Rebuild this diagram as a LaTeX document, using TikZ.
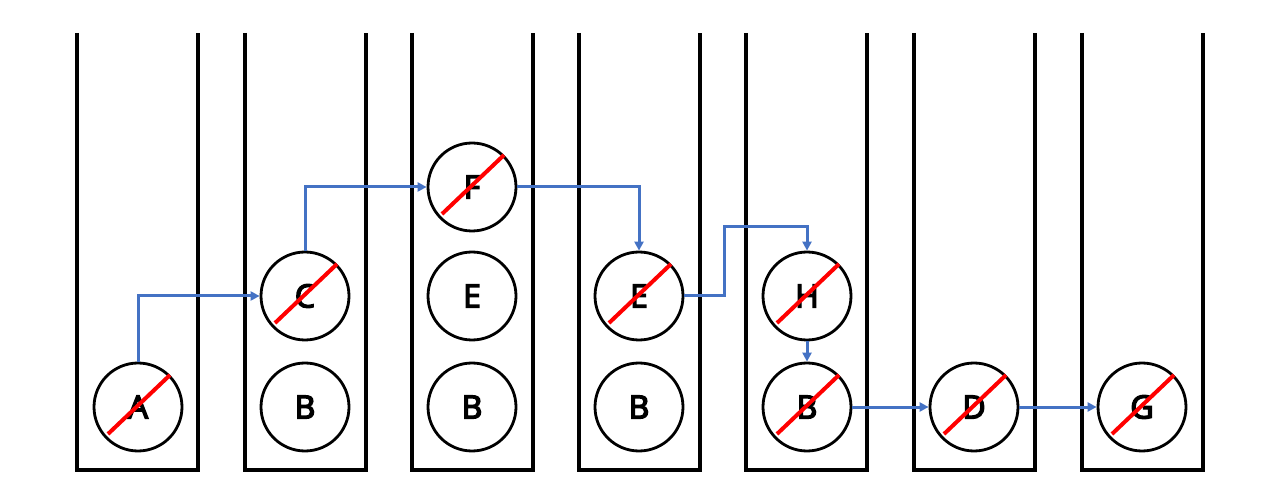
\documentclass[tikz,border=0pt]{standalone}
\usepackage{fontspec}
\setmainfont{Open Sans}
\newfontfamily\ballfont{Open Sans}[FakeBold=4.5]
\usetikzlibrary{arrows.meta}
\definecolor{arrowblue}{HTML}{4472C4}
\tikzset{
  box/.style={line width=4pt, line join=miter},
  ball/.style={circle, draw=black, line width=2.8pt, minimum size=88pt, inner sep=0pt, font=\ballfont\fontsize{32}{35}\selectfont},
  slash/.style={draw=red, line width=4pt},
  link/.style={draw=arrowblue, line width=3pt, -{Triangle[length=9pt,width=9pt]}},
}
\begin{document}
\begin{tikzpicture}[x=1pt,y=-1pt]
\useasboundingbox (0,0) rectangle (1275,486);
\foreach \xa/\xb in {77/198,245/366,412/533,579/700,746/867,914/1035,1082/1203}{
  \draw[box] (\xa,33) -- (\xa,470) -- (\xb,470) -- (\xb,33);
}
\node[ball] (A)  at (138,407) {A};
\node[ball] (C)  at (305,296) {C};
\node[ball] (B1) at (305,407) {B};
\node[ball] (F)  at (472,187) {F};
\node[ball] (E1) at (472,296) {E};
\node[ball] (B2) at (472,407) {B};
\node[ball] (E2) at (639,296) {E};
\node[ball] (B3) at (639,407) {B};
\node[ball] (H)  at (807,296) {H};
\node[ball] (B4) at (807,407) {B};
\node[ball] (D)  at (974,407) {D};
\node[ball] (G)  at (1142,407) {G};
\foreach \n in {A,C,F,E2,H,B4,D,G}{
  \draw[slash] ([shift={(-30,27)}]\n.center) -- ([shift={(32,-32)}]\n.center);
}
\draw[link] (A.north) |- (C.west);
\draw[link] (C.north) |- (F.west);
\draw[link] (F.east) -| (E2.north);
\coordinate (k1) at (724,296);
\coordinate (k2) at (724,227);
\draw[link] (E2.east) -- (k1) -- (k2) -| (H.north);
\draw[link] (H.south) -- (B4.north);
\draw[link] (B4.east) -- (D.west);
\draw[link] (D.east) -- (G.west);
\end{tikzpicture}
\end{document}
